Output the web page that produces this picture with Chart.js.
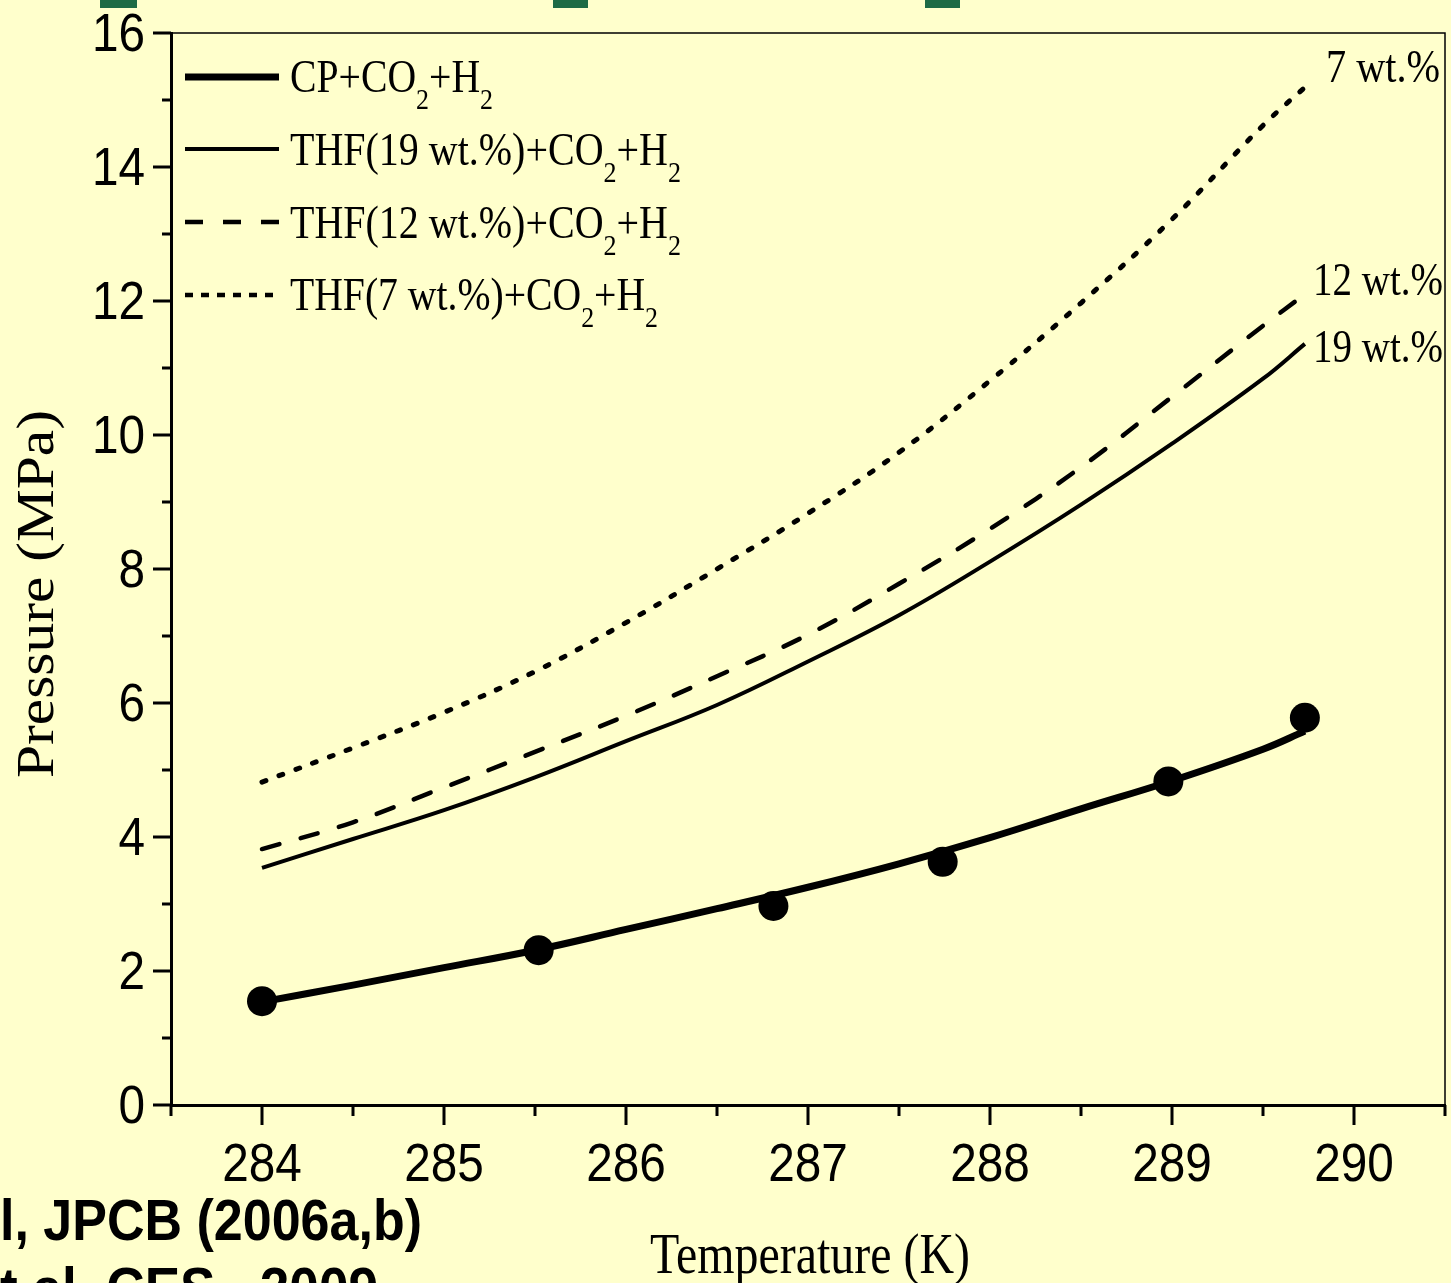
<!DOCTYPE html>
<html>
<head>
<meta charset="utf-8">
<title>Pressure vs Temperature</title>
<script src="https://cdn.jsdelivr.net/npm/chart.js@4.4.0/dist/chart.umd.min.js"></script>
<style>
  html, body { margin: 0; padding: 0; background: #FFFFCC; overflow: hidden; }
  canvas { display: block; }
</style>
</head>
<body>
<canvas id="chart" width="1451" height="1283"></canvas>
<script>
// model curves (K, MPa)
const temps = [284, 284.5, 285, 285.5, 286, 286.5, 287, 287.5, 288, 288.5, 289, 289.5, 289.73];
const cpModel = [1.54, 1.79, 2.05, 2.31, 2.62, 2.93, 3.25, 3.60, 3.99, 4.42, 4.84, 5.31, 5.58];
const thf19 = [3.54, 3.97, 4.40, 4.89, 5.43, 5.97, 6.62, 7.31, 8.11, 8.96, 9.87, 10.84, 11.36];
const thf12 = [3.82, 4.22, 4.74, 5.27, 5.81, 6.40, 7.02, 7.78, 8.60, 9.52, 10.57, 11.63, 12.10];
const thf7 = [4.82, 5.33, 5.86, 6.47, 7.20, 8.00, 8.83, 9.74, 10.81, 11.97, 13.22, 14.62, 15.19];

// experimental points (CP + CO2 + H2)
const expT = [284.0, 285.52, 286.81, 287.74, 288.98, 289.73];
const expP = [1.55, 2.31, 2.97, 3.63, 4.83, 5.78];

// axis ticks
const xMajor = [284, 285, 286, 287, 288, 289, 290];
const xMinor = [283.5, 284.5, 285.5, 286.5, 287.5, 288.5, 289.5, 290.5];
const yMajor = [0, 2, 4, 6, 8, 10, 12, 14, 16];
const yMinor = [1, 3, 5, 7, 9, 11, 13, 15];

const SANS = "'Liberation Sans', Arial, sans-serif";
const SERIF = "'Liberation Serif', 'Times New Roman', serif";

function toPoints(xs, ys) {
    return xs.map((x, i) => ({ x: x, y: ys[i] }));
}

// draws text squeezed/stretched horizontally to a given width
function fitText(ctx, text, x, y, font, width, align) {
    ctx.font = font;
    const w = ctx.measureText(text).width;
    const s = width / w;
    ctx.save();
    ctx.translate(x, y);
    ctx.scale(s, 1);
    ctx.textAlign = 'left';
    let dx = 0;
    if (align === 'center') dx = -w / 2;
    if (align === 'right') dx = -w;
    ctx.fillText(text, dx, 0);
    ctx.restore();
}

// text with subscripts, e.g. [['CP+CO'], ['2', true], ['+H'], ['2', true]]
function drawFormula(ctx, parts, x, y, width) {
    const main = '46px ' + SERIF;
    const sub = '30px ' + SERIF;
    let total = 0;
    parts.forEach(p => {
        ctx.font = p[1] ? sub : main;
        total += ctx.measureText(p[0]).width;
    });
    const s = width / total;
    ctx.save();
    ctx.translate(x, y);
    ctx.scale(s, 1);
    ctx.textAlign = 'left';
    let cx = 0;
    parts.forEach(p => {
        ctx.font = p[1] ? sub : main;
        ctx.fillText(p[0], cx, p[1] ? 17 : 0);
        cx += ctx.measureText(p[0]).width;
    });
    ctx.restore();
}

const decor = {
    id: 'decor',
    beforeDraw(chart) {
        const ctx = chart.ctx;
        ctx.save();
        ctx.fillStyle = '#FFFFCC';
        ctx.fillRect(0, 0, chart.width, chart.height);
        // bits of the slide above the plot
        ctx.fillStyle = '#1E6B45';
        ctx.fillRect(100, 0, 37, 8);
        ctx.fillRect(553, 0, 35, 8);
        ctx.fillRect(925, 0, 35, 8);
        ctx.restore();
    },
    afterDraw(chart) {
        const ctx = chart.ctx;
        const xs = chart.scales.x;
        const ys = chart.scales.y;
        const area = chart.chartArea;
        ctx.save();
        ctx.fillStyle = '#000';
        ctx.strokeStyle = '#000';

        // thin frame on top and right
        ctx.lineWidth = 1.5;
        ctx.beginPath();
        ctx.moveTo(area.left, area.top);
        ctx.lineTo(area.right, area.top);
        ctx.lineTo(area.right, area.bottom);
        ctx.stroke();

        // tick marks
        ctx.lineWidth = 3;
        ctx.beginPath();
        xMajor.forEach(v => {
            const px = xs.getPixelForValue(v);
            ctx.moveTo(px, area.bottom);
            ctx.lineTo(px, area.bottom + 20);
        });
        xMinor.forEach(v => {
            const px = xs.getPixelForValue(v);
            ctx.moveTo(px, area.bottom);
            ctx.lineTo(px, area.bottom + 11);
        });
        yMajor.forEach(v => {
            const py = ys.getPixelForValue(v);
            ctx.moveTo(area.left, py);
            ctx.lineTo(area.left - 18, py);
        });
        yMinor.forEach(v => {
            const py = ys.getPixelForValue(v);
            ctx.moveTo(area.left, py);
            ctx.lineTo(area.left - 9, py);
        });
        ctx.stroke();

        // tick labels (narrow Arial look)
        const tickFont = '53px ' + SANS;
        xMajor.forEach(v => {
            const px = xs.getPixelForValue(v);
            ctx.font = tickFont;
            const w = ctx.measureText(String(v)).width * 0.9;
            fitText(ctx, String(v), px, area.bottom + 76, tickFont, w, 'center');
        });
        yMajor.forEach(v => {
            const py = ys.getPixelForValue(v);
            ctx.font = tickFont;
            const w = ctx.measureText(String(v)).width * 0.9;
            fitText(ctx, String(v), 145, py + 18, tickFont, w, 'right');
        });

        // axis titles
        fitText(ctx, 'Temperature (K)', 810, 1273, '56px ' + SERIF, 320, 'center');
        ctx.save();
        ctx.translate(53, 594);
        ctx.rotate(-Math.PI / 2);
        fitText(ctx, 'Pressure (MPa)', 0, 0, '53px ' + SERIF, 368, 'center');
        ctx.restore();

        // legend
        const rows = [
            { y: 77, base: 92, width: 7, dash: [], end: 493,
              parts: [['CP+CO'], ['2', true], ['+H'], ['2', true]] },
            { y: 149, base: 165, width: 4, dash: [], end: 681,
              parts: [['THF(19 wt.%)+CO'], ['2', true], ['+H'], ['2', true]] },
            { y: 222, base: 238, width: 4.5, dash: [18, 20], end: 681,
              parts: [['THF(12 wt.%)+CO'], ['2', true], ['+H'], ['2', true]] },
            { y: 295, base: 310, width: 4.5, dash: [8, 8], end: 658,
              parts: [['THF(7 wt.%)+CO'], ['2', true], ['+H'], ['2', true]] }
        ];
        rows.forEach(r => {
            ctx.save();
            ctx.lineWidth = r.width;
            ctx.lineCap = 'butt';
            ctx.setLineDash(r.dash);
            ctx.beginPath();
            ctx.moveTo(185, r.y);
            ctx.lineTo(279, r.y);
            ctx.stroke();
            ctx.restore();
            drawFormula(ctx, r.parts, 290, r.base, r.end - 290);
        });

        // curve labels on the right
        fitText(ctx, '7 wt.%', 1326, 82, '46px ' + SERIF, 114, 'left');
        fitText(ctx, '12 wt.%', 1313, 295, '46px ' + SERIF, 130, 'left');
        fitText(ctx, '19 wt.%', 1313, 362, '46px ' + SERIF, 130, 'left');

        // citation text of the slide, cut by the crop
        fitText(ctx, 'l, JPCB (2006a,b)', 0, 1240, 'bold 58px ' + SANS, 422, 'left');
        fitText(ctx, 't al. CES , 2009', 0, 1308, 'bold 58px ' + SANS, 378, 'left');

        ctx.restore();
    }
};

const chart = new Chart(document.getElementById('chart'), {
    type: 'line',
    data: {
        datasets: [
            {
                label: 'CP+CO2+H2 (exp.)',
                data: toPoints(expT, expP),
                showLine: false,
                pointRadius: 15,
                pointBackgroundColor: '#000',
                pointBorderWidth: 0
            },
            {
                label: 'CP+CO2+H2',
                data: toPoints(temps, cpModel),
                borderColor: '#000',
                borderWidth: 7,
                pointRadius: 0,
                tension: 0.4
            },
            {
                label: 'THF(19 wt.%)+CO2+H2',
                data: toPoints(temps, thf19),
                borderColor: '#000',
                borderWidth: 4,
                pointRadius: 0,
                tension: 0.4
            },
            {
                label: 'THF(12 wt.%)+CO2+H2',
                data: toPoints(temps, thf12),
                borderColor: '#000',
                borderWidth: 4.5,
                borderDash: [18, 22],
                borderCapStyle: 'round',
                pointRadius: 0,
                tension: 0.4
            },
            {
                label: 'THF(7 wt.%)+CO2+H2',
                data: toPoints(temps, thf7),
                borderColor: '#000',
                borderWidth: 5,
                borderDash: [4, 14],
                borderCapStyle: 'round',
                pointRadius: 0,
                tension: 0.4
            }
        ]
    },
    options: {
        responsive: false,
        animation: false,
        devicePixelRatio: 1,
        events: [],
        layout: {
            autoPadding: false,
            padding: { left: 0, right: 6, top: 33, bottom: 0 }
        },
        scales: {
            x: {
                type: 'linear',
                min: 283.5,
                max: 290.5,
                ticks: { display: false },
                grid: { display: false },
                border: { display: true, color: '#000', width: 3 },
                afterFit: function (scale) { scale.height = 178; }
            },
            y: {
                type: 'linear',
                min: 0,
                max: 16,
                ticks: { display: false },
                grid: { display: false },
                border: { display: true, color: '#000', width: 3 },
                afterFit: function (scale) { scale.width = 171; }
            }
        },
        plugins: {
            legend: { display: false },
            tooltip: { enabled: false }
        }
    },
    plugins: [decor]
});
</script>
</body>
</html>
